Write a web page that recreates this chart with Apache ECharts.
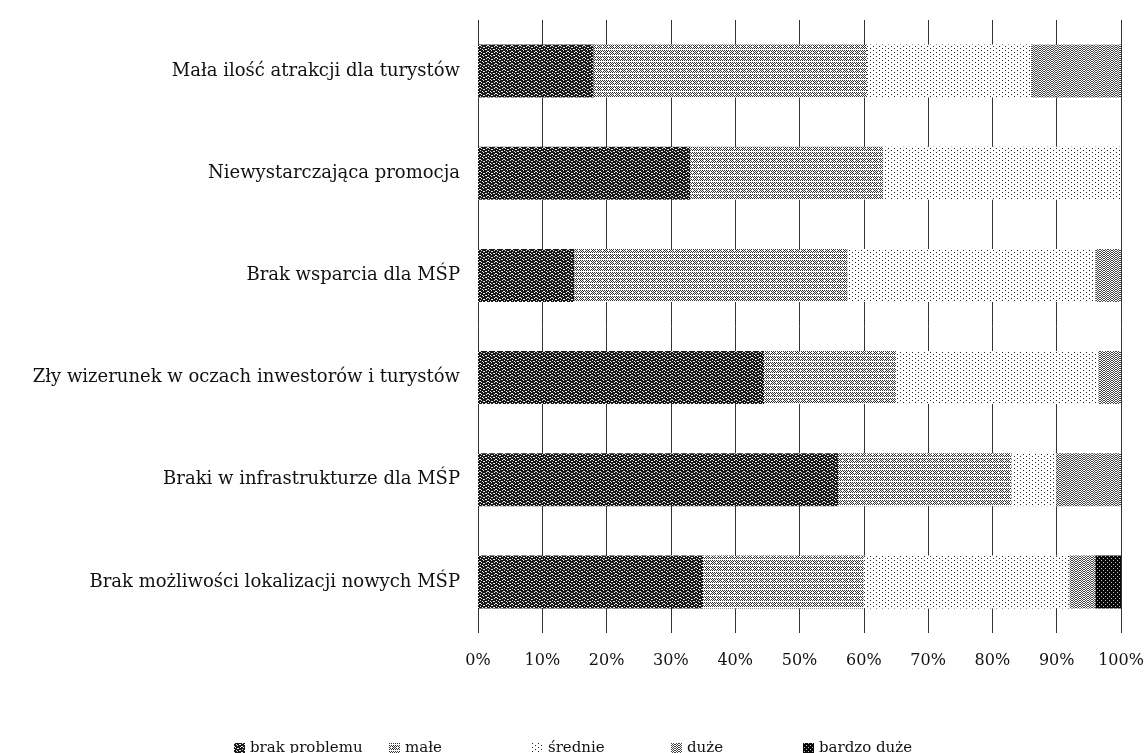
<!doctype html>
<html>
<head>
    <meta charset="utf-8">
    <title>Problemy</title>
    <script src="https://cdn.jsdelivr.net/npm/echarts@6/dist/echarts.min.js"></script>
</head>
<body style="margin:0;background:#fff;">
    <div id="container" style="width:1147px;height:753px;"></div>
    <script type="text/javascript">
        // kategorie od góry do dołu
        var categories = [
            'Mała ilość atrakcji dla turystów',
            'Niewystarczająca promocja',
            'Brak wsparcia dla MŚP',
            'Zły wizerunek w oczach inwestorów i turystów',
            'Braki w infrastrukturze dla MŚP',
            'Brak możliwości lokalizacji nowych MŚP'
        ];
        var seriesNames = ['brak problemu', 'małe', 'średnie', 'duże', 'bardzo duże'];
        // wartości w %
        var brakProblemu = [18, 33, 15, 44.5, 56, 35];
        var male = [42.5, 30, 42.5, 20.5, 27, 25];
        var srednie = [25.5, 37, 38.5, 31.5, 7, 32];
        var duze = [14, 0, 4, 3.5, 10, 4];
        var bardzoDuze = [0, 0, 0, 0, 0, 4];
        var xTicks = [0, 10, 20, 30, 40, 50, 60, 70, 80, 90, 100];
        var legendLeft = [229, 384, 527, 666, 798];

        // wzory wypełnienia (tekstury)
        function makePattern(w, h, bg, fg, pixels) {
            var c = document.createElement('canvas');
            c.width = w;
            c.height = h;
            var ctx = c.getContext('2d');
            ctx.fillStyle = bg;
            ctx.fillRect(0, 0, w, h);
            ctx.fillStyle = fg;
            pixels.forEach(function(p) {
                ctx.fillRect(p[0], p[1], 1, 1);
            });
            return { image: c, repeat: 'repeat' };
        }
        function zigzag(w, h, step, tri) {
            var px = [];
            for (var x = 0; x < w; x++) {
                for (var y0 = 0; y0 < h; y0 += step) {
                    px.push([x, (y0 + tri[x % tri.length]) % h]);
                }
            }
            return px;
        }
        var patterns = [
            // brak problemu - ciemny, z białymi wężykami
            makePattern(8, 6, '#1a1a1a', '#e8e8e8', zigzag(8, 6, 3, [0, 1, 1, 2, 2, 1, 1, 0]).filter(function(p, k) { return k % 3 !== 2; })),
            // małe - zygzak
            makePattern(6, 6, '#fff', '#333', zigzag(6, 6, 2, [0, 1, 2, 3, 2, 1]).filter(function(p, k) { return k % 4 !== 3; })),
            // średnie - rzadkie kropki
            makePattern(6, 4, '#fff', '#222', [[0, 0], [3, 2]]),
            // duże - drobny zygzak
            makePattern(8, 4, '#fff', '#444', zigzag(8, 4, 2, [0, 1, 2, 3, 3, 2, 1, 0])),
            // bardzo duże - bardzo ciemny
            makePattern(4, 4, '#0a0a0a', '#bbb', [[1, 0], [3, 2]])
        ];

        var values = [brakProblemu, male, srednie, duze, bardzoDuze];
        var series = seriesNames.map(function(name, i) {
            return {
                name: name,
                type: 'bar',
                stack: 'total',
                barWidth: 53,
                itemStyle: { color: patterns[i] },
                emphasis: { disabled: true },
                data: values[i]
            };
        });

        var legends = seriesNames.map(function(name, i) {
            return {
                data: [name],
                left: legendLeft[i],
                top: 736,
                icon: 'rect',
                itemWidth: 11,
                itemHeight: 11,
                itemGap: 6,
                selectedMode: false,
                textStyle: { fontFamily: 'DejaVu Serif', fontSize: 15, color: '#111' }
            };
        });

        var option = {
            animation: false,
            backgroundColor: '#fff',
            legend: legends,
            grid: { left: 478, right: 26, top: 20, bottom: 120 },
            xAxis: {
                type: 'value',
                min: xTicks[0],
                max: xTicks[xTicks.length - 1],
                interval: 10,
                axisLine: { show: false },
                axisTick: { show: false },
                axisLabel: {
                    formatter: '{value}%',
                    margin: 20,
                    fontFamily: 'DejaVu Serif',
                    fontSize: 16,
                    color: '#111'
                },
                splitLine: { show: true, lineStyle: { color: '#333', width: 1 } }
            },
            yAxis: {
                type: 'category',
                inverse: true,
                data: categories,
                axisLine: { show: false },
                axisTick: { show: false },
                axisLabel: {
                    margin: 18,
                    fontFamily: 'DejaVu Serif',
                    fontSize: 18,
                    color: '#111'
                }
            },
            series: series
        };
        var myChart = echarts.init(document.getElementById('container'));
        myChart.setOption(option);
    </script>
</body>
</html>
